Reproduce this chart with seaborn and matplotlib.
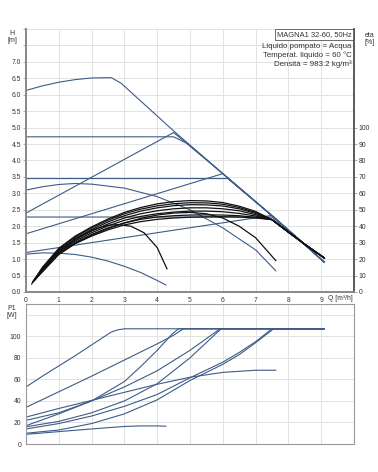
import numpy as np
import pandas as pd
import seaborn as sns
import matplotlib.pyplot as plt

# flow values [m3/h] and head [m] for the pump curves
q_max = [0, 0.5, 1, 1.5, 2, 2.6, 2.9, 4.5, 6, 7.5, 8.3, 9.1]
h_max = [6.13, 6.27, 6.38, 6.46, 6.51, 6.52, 6.35, 4.9, 3.6, 2.32, 1.62, 0.9]
q_c472 = [0, 4.5, 4.95, 6, 7.5, 8.3, 9.1]
h_c472 = [4.72, 4.72, 4.5, 3.6, 2.32, 1.62, 0.9]
q_p480 = [0, 4.5, 6, 7.5, 8.3, 9.1]
h_p480 = [2.4, 4.85, 3.6, 2.32, 1.62, 0.9]
q_c345 = [0, 6.15, 7.5, 8.3, 9.1]
h_c345 = [3.45, 3.45, 2.32, 1.62, 0.9]
q_p355 = [0, 6.0, 7.5, 8.3, 9.1]
h_p355 = [1.77, 3.6, 2.32, 1.62, 0.9]
q_c228 = [0, 7.5, 8.3, 9.1]
h_c228 = [2.28, 2.28, 1.62, 0.9]
q_p235 = [0, 7.5, 8.3, 9.1]
h_p235 = [1.2, 2.33, 1.62, 0.9]
q_mid = [0, 0.5, 1, 1.5, 2, 3, 4, 5, 6, 7, 7.62]
h_mid = [3.1, 3.2, 3.27, 3.3, 3.28, 3.16, 2.9, 2.5, 1.95, 1.28, 0.64]
q_min = [0, 0.5, 1, 1.5, 2, 2.5, 3, 3.5, 4, 4.27]
h_min = [1.15, 1.19, 1.18, 1.14, 1.06, 0.94, 0.78, 0.59, 0.35, 0.21]

# efficiency curves [%]
q_e1 = [0.2, 0.5, 1, 1.5, 2, 2.5, 2.8, 3.2, 3.6, 4, 4.3]
eta_e1 = [6, 14, 24.4, 32, 37.6, 40.6, 41, 40, 36, 27, 14]
q_e2 = [0.25, 0.5, 1, 1.5, 2, 2.5, 3, 3.5, 4, 4.5, 5, 5.5, 6, 6.5, 7, 7.62]
eta_e2 = [7, 13, 23, 29.6, 34.4, 38.6, 42, 44.8, 46.8, 48, 48.4, 47.6, 45, 40, 33, 19]
q_eta = [0.5, 1, 1.5, 2, 2.5, 3, 3.5, 4, 4.5, 5, 5.5, 6, 6.5, 7, 7.5, 8, 8.5, 9.1]
eta_m1 = [15, 26.6, 34, 39.6, 44.4, 48.4, 51.4, 53.6, 55, 55.6, 55.4, 54.4, 52.2, 49, 44, 36.4, 29, 20.6]
eta_m2 = [14.6, 26, 33.4, 39, 43.6, 47.6, 50.4, 52.4, 53.7, 54.3, 54.2, 53.4, 51.4, 48.4, 44, 36.4, 29, 20.6]
eta_m3 = [14, 25.4, 32.6, 38, 42.6, 46.4, 49.2, 51.2, 52.5, 53.1, 53, 52.3, 50.6, 47.8, 44, 36.4, 29, 20.6]
eta_m4 = [13.4, 24.8, 31.8, 37, 41.4, 45, 47.6, 49.4, 50.6, 51.2, 51.2, 50.6, 49.4, 47, 44, 36.4, 29, 20.6]
eta_m5 = [13, 24, 31, 36, 40.2, 43.6, 46, 47.6, 48.6, 49.2, 49.2, 48.8, 47.8, 46.2, 44, 36.4, 29, 20.6]
eta_m6 = [12.6, 23.4, 30.2, 35, 39, 42, 44.2, 45.6, 46.4, 46.8, 46.9, 46.8, 46.4, 45.4, 44, 36.4, 29, 20.6]
eta_m7 = [12.2, 22.8, 29.4, 34, 37.8, 40.8, 42.8, 44.2, 45, 45.5, 45.7, 45.8, 45.6, 45, 44, 36.4, 29, 20.6]
q_first = [0.17, 0.2, 0.22, 0.25, 0.27, 0.3, 0.32]
eta_first = [4.8, 6, 6.2, 6.8, 7.2, 8, 8.6]

# power curves P1 [W]
qp_max = [0, 0.5, 1, 1.5, 2, 2.6, 2.8, 3.0, 9.1]
p_max = [53, 63, 72.5, 82, 92, 104, 106, 107, 107]
qp_c472 = [0, 1, 2, 3, 4, 4.5, 4.8, 9.1]
p_c472 = [34, 48.5, 63, 78, 93, 101, 107, 107]
qp_p480 = [0, 1, 2, 3, 3.5, 4, 4.45, 4.65, 9.1]
p_p480 = [22, 29, 40, 58, 72, 87, 102, 107, 107]
qp_c345 = [0, 1, 2, 3, 4, 5, 5.92, 9.1]
p_c345 = [17, 28, 40, 53, 68, 87, 107, 107]
qp_p355 = [0, 1, 2, 3, 4, 5, 5.95, 9.1]
p_p355 = [16, 21, 29, 40, 56, 80, 107, 107]
qp_mid = [0, 1, 2, 3, 4, 5, 6, 7, 7.62]
p_mid = [25, 33, 40.5, 48, 55.5, 62, 66.5, 68.5, 68.5]
qp_c228 = [0, 1, 2, 3, 4, 5, 6, 6.5, 7, 7.5, 9.1]
p_c228 = [14, 19, 26, 35, 46, 61.5, 76, 85, 95, 107, 107]
qp_p235 = [0, 1, 2, 3, 4, 5, 6, 6.5, 7, 7.55, 9.1]
p_p235 = [10, 13, 19, 28, 41, 59, 74, 83, 94, 107, 107]
qp_min = [0, 1, 2, 3, 3.5, 4, 4.27]
p_min = [9, 11.5, 14, 16.3, 16.8, 16.8, 16.5]

h_ticks = [f'{v:.1f}' for v in np.arange(0, 7.01, 0.5)]
q_ticks = [str(i) for i in range(10)]

blue = '#3d5c86'
black = '#111111'
grid_c = '#e2e2e2'
spine_c = '#8a8a8a'
txt_c = '#333333'

sns.set_theme(style='whitegrid')
plt.rcParams['font.family'] = ['Liberation Sans', 'DejaVu Sans']
plt.rcParams['font.size'] = 5

fig = plt.figure(figsize=(3.78, 4.72), dpi=100)
ax = fig.add_axes([0.0688, 0.3814, 0.8677, 0.5572])
ax2 = ax.twinx()
axp = fig.add_axes([0.0688, 0.0593, 0.8677, 0.2966])


def line(a, x, y, c, lw=0.8):
    sns.lineplot(x=x, y=y, ax=a, color=c, lw=lw, sort=False, estimator=None)


for x, y in [(q_max, h_max), (q_c472, h_c472), (q_p480, h_p480), (q_c345, h_c345),
             (q_p355, h_p355), (q_c228, h_c228), (q_p235, h_p235), (q_mid, h_mid),
             (q_min, h_min)]:
    line(ax, x, y, blue)

line(ax2, q_e1, eta_e1, black, 0.9)
line(ax2, q_e2, eta_e2, black, 0.9)
for q0, e0, e in zip(q_first, eta_first, [eta_m1, eta_m2, eta_m3, eta_m4, eta_m5, eta_m6, eta_m7]):
    line(ax2, [q0] + q_eta, [e0] + e, black, 0.9)

for x, y in [(qp_max, p_max), (qp_c472, p_c472), (qp_p480, p_p480), (qp_c345, p_c345),
             (qp_p355, p_p355), (qp_mid, p_mid), (qp_c228, p_c228), (qp_p235, p_p235),
             (qp_min, p_min)]:
    line(axp, x, y, blue)

# top chart axes
ax.set_xlim(0, 10)
ax.set_ylim(0, 8)
ax.set_xticks(range(11))
ax.set_xticklabels(q_ticks + [''])
ax.set_yticks(np.arange(0, 8.01, 0.5))
ax.set_yticklabels(h_ticks + ['', ''])
ax2.set_ylim(0, 160)
ax2.set_yticks(range(0, 101, 10))
ax2.grid(False)
for a in (ax, axp):
    a.grid(True, color=grid_c, lw=0.7)
    a.set_xlabel('')
    a.set_ylabel('')
ax.spines['top'].set_visible(False)
ax2.spines['top'].set_visible(False)
for s in ['left', 'bottom', 'right']:
    ax.spines[s].set_color(spine_c)
    ax2.spines[s].set_color(spine_c)
ax2.spines['right'].set_color('#555555')
ax.tick_params(length=2, width=0.5, color=spine_c, labelsize=4.9, labelcolor=txt_c, pad=1.5)
ax2.tick_params(length=2, width=0.5, color=spine_c, labelsize=4.9, labelcolor=txt_c, pad=1.5)
ax2.set_ylabel('')

# bottom chart axes
axp.set_xlim(0, 10)
axp.set_ylim(0, 130)
axp.set_xticks(range(11))
axp.set_xticklabels([])
axp.set_yticks(range(0, 121, 20))
axp.set_yticklabels([str(v) for v in range(0, 101, 20)] + [''])
for s in axp.spines.values():
    s.set_color('#9a9a9a')
    s.set_linewidth(0.8)
axp.tick_params(length=2, width=0.5, color=spine_c, labelsize=4.9, labelcolor=txt_c, pad=1.5)

# labels and info box
fig.text(12 / 378, 1 - 37 / 472, 'H\n[m]', ha='center', va='center', fontsize=5, color=txt_c, linespacing=1.0)
fig.text(12 / 378, 1 - 312 / 472, 'P1\n[W]', ha='center', va='center', fontsize=5, color=txt_c, linespacing=1.0)
fig.text(370 / 378, 1 - 39 / 472, 'eta\n[%]', ha='center', va='center', fontsize=5, color=txt_c, linespacing=1.0)
ax.text(9.2, -0.012, 'Q [m³/h]', ha='left', va='top', fontsize=4.9, color=txt_c,
        transform=ax.get_xaxis_transform())
ax.text(9.93, 0.993, 'MAGNA1 32-60, 50Hz', ha='right', va='top', fontsize=5.4, color=txt_c,
        transform=ax.get_xaxis_transform(),
        bbox=dict(boxstyle='square,pad=0.3', fc='white', ec='#555555', lw=0.6))
ax.text(9.93, 0.945, 'Liquido pompato = Acqua\nTemperat. liquido = 60 °C\nDensità = 983.2 kg/m³',
        ha='right', va='top', fontsize=5.7, color=txt_c, linespacing=1.2,
        transform=ax.get_xaxis_transform())

fig.savefig('out.png', dpi=100)
